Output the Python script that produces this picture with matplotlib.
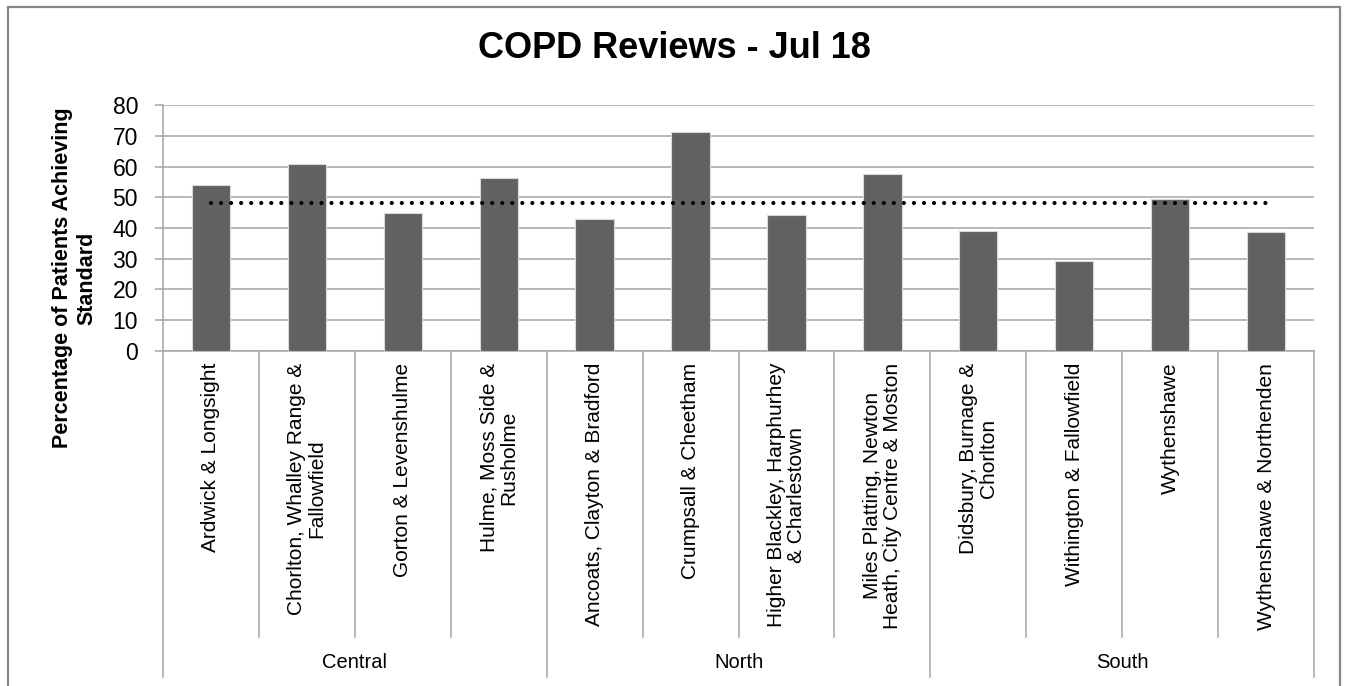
import matplotlib
matplotlib.use("Agg")
import matplotlib.pyplot as plt
from matplotlib import patches, transforms
import numpy as np

plt.rcParams['font.family'] = ['Liberation Sans', 'DejaVu Sans']

# data
groups = ['Central', 'North', 'South']
group_sizes = [4, 4, 4]
localities = [
    'Ardwick & Longsight',
    'Chorlton, Whalley Range &\nFallowfield',
    'Gorton & Levenshulme',
    'Hulme, Moss Side &\nRusholme',
    'Ancoats, Clayton & Bradford',
    'Crumpsall & Cheetham',
    'Higher Blackley, Harphurhey\n& Charlestown',
    'Miles Platting, Newton\nHeath, City Centre & Moston',
    'Didsbury, Burnage &\nChorlton',
    'Withington & Fallowfield',
    'Wythenshawe',
    'Wythenshawe & Northenden',
]
achieving = [54.1, 60.9, 45.0, 56.3, 42.9, 71.3, 44.1, 57.5, 39.1, 29.2, 49.3, 38.8]
target = [48.2] * 12
y_ticks = [0, 10, 20, 30, 40, 50, 60, 70, 80]

GRID = '#a6a6a6'
BAR = '#616161'

W, H = 1348, 686
fig = plt.figure(figsize=(W / 100, H / 100), dpi=100)
ax = fig.add_axes([163 / W, 1 - 351 / H, (1314 - 163) / W, (351 - 105) / H])

x = np.arange(len(achieving))
ax.bar(x, achieving, width=0.4, color=BAR, edgecolor='#d9d9d9', linewidth=0.8, zorder=3)

# target line, round dots
ax.plot(x, target, color='black', linewidth=3, linestyle=(0, (0.01, 2.4)),
        dash_capstyle='round', zorder=4)

ax.set_xlim(-0.5, len(achieving) - 0.5)
ax.set_ylim(0, 80)
ax.set_yticks(y_ticks)
ax.tick_params(axis='y', labelsize=16.5, length=6, width=1.1, color=GRID, pad=12)
ax.yaxis.grid(True, color=GRID, linewidth=1.1, zorder=0)
ax.set_axisbelow(True)

ax.set_xticks(x)
ax.set_xticklabels(localities, rotation=90, fontsize=15, va='top', ha='center',
                   multialignment='center', linespacing=1.05)
ax.tick_params(axis='x', length=0, pad=8.5)

for side in ['top', 'right']:
    ax.spines[side].set_visible(False)
for side in ['left', 'bottom']:
    ax.spines[side].set_color(GRID)
    ax.spines[side].set_linewidth(1.1)

# category / group dividers below the axis
trans = transforms.blended_transform_factory(ax.transData, ax.transAxes)
cat_bottom = (351 - 637) / 246
grp_bottom = (351 - 677) / 246
bounds = np.cumsum([0] + group_sizes) - 0.5
for i in range(len(achieving) + 1):
    xb = i - 0.5
    yb = grp_bottom if xb in bounds else cat_bottom
    ax.plot([xb, xb], [0, yb], color=GRID, linewidth=1.1, transform=trans, clip_on=False)

for g, lo, hi in zip(groups, bounds[:-1], bounds[1:]):
    ax.text((lo + hi) / 2, (351 - 663) / 246, g, transform=trans, ha='center', va='center',
            fontsize=14.5)

fig.text(75 / W, 1 - 278 / H, 'Percentage of Patients Achieving\nStandard', rotation=90,
         ha='center', va='center', fontsize=15.5, fontweight='bold', multialignment='center')
fig.text(0.5, 1 - 58 / H, 'COPD Reviews - Jul 18', ha='center', va='baseline',
         fontsize=26, fontweight='bold')

# chart frame
fig.patches.append(patches.Rectangle((8 / W, -0.05), (1340 - 8) / W, 1.05 - 7 / H,
                                     transform=fig.transFigure, fill=False,
                                     edgecolor='#878787', linewidth=1.6))

fig.savefig('out.png', dpi=100)
